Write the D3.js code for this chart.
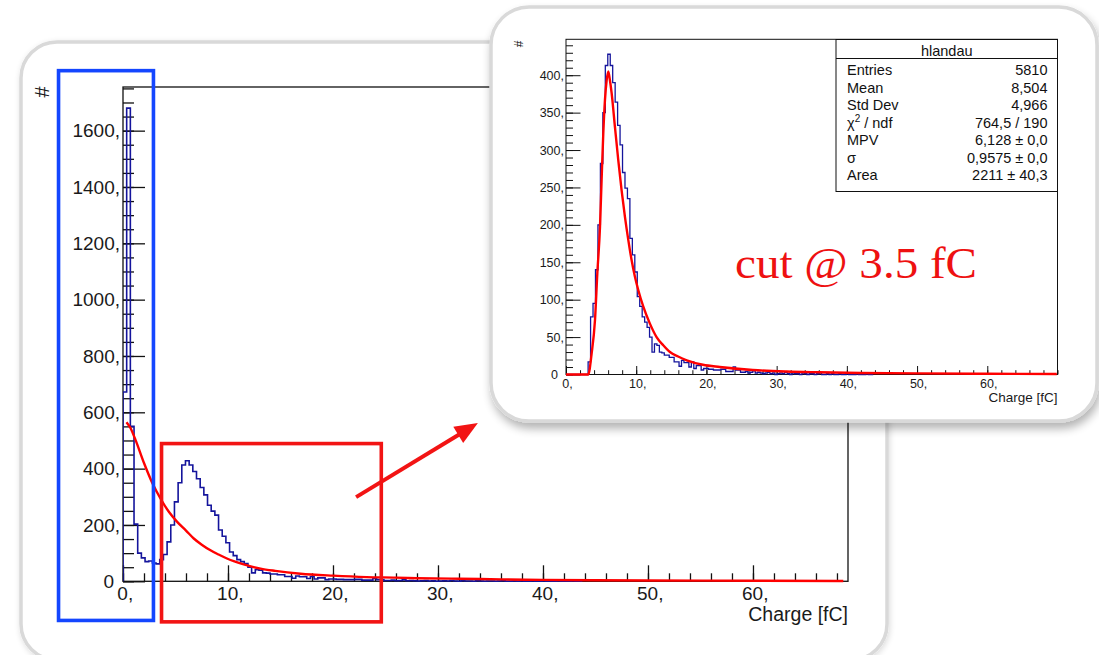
<!DOCTYPE html>
<html><head><meta charset="utf-8">
<script src="https://cdn.jsdelivr.net/npm/d3@7"></script>
<style>body{margin:0;background:#fff;} svg{display:block;}</style>
</head><body>
<svg id="c" width="1099" height="655"></svg>
<script>
// ---------------- DATA ----------------
const binWidth = 0.35;                       // fC per bin
const mainBelowCut  = [672,1680,550,203,100,83,70,72,65,62];   // bins 0..9, full spectrum
const insetBelowCut = [0,0,0,0,0,0,0,0,0,17];                  // bins 0..9, after cut
const countsAboveCut = [77,95,140,200,282,350,413,428,413,390,364,333,307,270,249,235,182,160,137,104,
  91,77,70,63,50,30,41,39,30,29,26,26,23,23,17,17,11,19,16,16,10,17,8,12,12,6,8,8,7,7,
  6,6,6,7,7,4,4,4,10,6,6,3,3,4,2,3,5,2,3,2,1,
  2,3,1,2,0,1,2,1,3,1,0,2,1,1,0,2,1,0,1,1,0,1,2,0,0,1,0,1,0,0,1,0,0,1,0,0,0,1,0,0,0,1,0,0];
// main-panel fit (red)
const mainFitX = [0.33,0.7,1.19,2.0,2.78,3.57,4.4,5.16,6.0,6.74,7.5,8.33,9.1,9.9,11.5,13.1,14.5,16.9,20,23.2,26,28,32,36,40,50,60,68.6];
const mainFitY = [565,545,502,420,350,294,245,211,180,152,130,110,95,81,60,45,37,27,20,15,13,11,9,7,5,3,2,1];
// inset Landau fit (red)
const insetFitX = [0,3.17,3.65,4.13,4.46,4.84,5.07,5.31,5.55,5.79,6.02,6.26,6.5,6.97,7.44,7.92,8.39,8.87,9.34,9.81,10.29,11.0,11.95,12.9,13.85,14.8,15.97,17.2,19.5,21.9,26.6,31.4,36.1,42,50,60,69.9];
const insetFitY = [0,0,28,73,135,197,260,322,367,393,405,393,376,331,287,246,211,180,153,131,113,91,68,50,39,30,24,19,13,10,6,4,3,2,1.5,1,0.6];
// axis ticks
const mainYMajor = [0,200,400,600,800,1000,1200,1400,1600];
const mainXMajor = [0,10,20,30,40,50,60];
const insetYMajor = [0,50,100,150,200,250,300,350,400];
const insetXMajor = [0,10,20,30,40,50,60];
// stats box
const statsTitle = "hlandau";
const statsNames = ["Entries","Mean","Std Dev","χ2 / ndf","MPV","σ","Area"];
const statsValues = ["5810","8,504","4,966","764,5 / 190","6,128 ± 0,0","0,9575 ± 0,0","2211 ± 40,3"];
// annotations (main data coordinates: fC, counts)
const blueBox = {x0:-6.14, x1:2.9, y0:1813, y1:-139};
const redBox  = {x0:3.67, x1:24.6, y0:489, y1:-144};
const arrowFrom = [22.2, 299], arrowTo = [33.8, 562];
const cutLabel = "cut @ 3.5 fC";

// ---------------- DRAW ----------------
const FONT = "'Liberation Sans', Arial, Helvetica, sans-serif";
const svg = d3.select("#c");
const defs = svg.append("defs");
const f1 = defs.append("filter").attr("id","sh").attr("x","-10%").attr("y","-10%").attr("width","125%").attr("height","130%");
f1.append("feGaussianBlur").attr("in","SourceAlpha").attr("stdDeviation",5);
f1.append("feOffset").attr("dx",2).attr("dy",6).attr("result","o");
f1.append("feComponentTransfer").append("feFuncA").attr("type","linear").attr("slope",0.3);
const m1 = f1.append("feMerge"); m1.append("feMergeNode"); m1.append("feMergeNode").attr("in","SourceGraphic");
const f2 = defs.append("filter").attr("id","sh2").attr("x","-10%").attr("y","-10%").attr("width","125%").attr("height","130%");
f2.append("feGaussianBlur").attr("in","SourceAlpha").attr("stdDeviation",3);
f2.append("feOffset").attr("dx",1).attr("dy",2);
f2.append("feComponentTransfer").append("feFuncA").attr("type","linear").attr("slope",0.15);
const m2 = f2.append("feMerge"); m2.append("feMergeNode"); m2.append("feMergeNode").attr("in","SourceGraphic");

// main panel
svg.append("rect").attr("x",21).attr("y",42).attr("width",866).attr("height",618).attr("rx",36)
  .attr("fill","#fff").attr("stroke","#d9d9d9").attr("stroke-width",3.5).attr("filter","url(#sh2)");

function histPoints(counts){
  const pts=[[0,0]];
  counts.forEach((c,i)=>pts.push([i*binWidth,c]));
  pts.push([counts.length*binWidth,counts[counts.length-1]]);
  pts.push([counts.length*binWidth,0]);
  return pts;
}

function drawPlot(g, o){
  const x=o.x, y=o.y;
  const [xa,xb]=x.range(), [ya,yb]=y.range();
  const clipId=o.id+"clip";
  defs.append("clipPath").attr("id",clipId).append("rect")
    .attr("x",xa).attr("y",yb).attr("width",xb-xa).attr("height",ya-yb+2);
  // frame
  g.append("rect").attr("x",xa).attr("y",yb).attr("width",xb-xa).attr("height",ya-yb)
    .attr("fill","none").attr("stroke","#111").attr("stroke-width",o.frameW);
  // ticks (inside)
  const tk = (axis, tx, ty) => {
    const a = g.append("g").attr("transform",`translate(${tx},${ty})`).call(axis);
    a.select(".domain").remove(); a.selectAll("text").remove();
    a.selectAll("line").attr("stroke","#111").attr("stroke-width",o.tickW);
  };
  tk(d3.axisRight(y).tickValues(o.yMajor).tickSize(o.yMajLen).tickFormat(""), xa, 0);
  tk(d3.axisRight(y).tickValues(d3.range(0, y.domain()[1]+0.01, o.yMinorStep)).tickSize(o.yMinLen).tickFormat(""), xa, 0);
  tk(d3.axisTop(x).tickValues(o.xMajor).tickSize(o.xMajLen).tickFormat(""), 0, ya);
  tk(d3.axisTop(x).tickValues(d3.range(0, x.domain()[1]+0.01, 2)).tickSize(o.xMinLen).tickFormat(""), 0, ya);
  // labels
  g.selectAll(".yl").data(o.yMajor).join("text")
    .attr("x",d=>d===0? xa-o.yLabGap-6 : xa-o.yLabGap).attr("y",d=>y(d)).attr("dy","0.36em")
    .attr("text-anchor","end").attr("font-family",FONT).attr("font-size",o.fs).attr("fill","#1a1a1a")
    .text(d=>d===0?"0":d+",");
  g.selectAll(".xl").data(o.xMajor).join("text")
    .attr("x",d=>x(d)+o.fs*0.12).attr("y",o.xLabBase)
    .attr("text-anchor","middle").attr("font-family",FONT).attr("font-size",o.fs).attr("fill","#1a1a1a")
    .text(d=>d+",");
  g.append("text").attr("x",xb).attr("y",o.titleBase).attr("text-anchor","end")
    .attr("font-family",FONT).attr("font-size",o.tfs).attr("fill","#1a1a1a").text("Charge [fC]");
  g.append("text").attr("transform",`translate(${o.hashX},${o.hashY}) rotate(-90)`)
    .attr("text-anchor","middle").attr("dy","0.35em").attr("font-family",FONT).attr("font-size",o.hfs)
    .attr("fill","#1a1a1a").text("#");
  // histogram
  g.append("path").attr("clip-path",`url(#${clipId})`)
    .attr("d", d3.line().x(d=>x(d[0])).y(d=>y(d[1])).curve(d3.curveStepAfter)(histPoints(o.counts)))
    .attr("fill","none").attr("stroke","#14149c").attr("stroke-width",o.histW);
  // fit
  g.append("path").attr("clip-path",`url(#${clipId})`)
    .attr("d", d3.line().x((d,i)=>x(o.fitX[i])).y((d,i)=>y(o.fitY[i])).curve(d3.curveMonotoneX)(o.fitX))
    .attr("fill","none").attr("stroke","#ff0000").attr("stroke-width",o.fitW).attr("stroke-linejoin","round");
}

// main chart
const xM = d3.scaleLinear([0,69.05],[123,848]);
const yM = d3.scaleLinear([0,1755],[581.3,87]);
const gM = svg.append("g");
drawPlot(gM,{id:"m",x:xM,y:yM,counts:mainBelowCut.concat(countsAboveCut),fitX:mainFitX,fitY:mainFitY,
  yMajor:mainYMajor,xMajor:mainXMajor,yMinorStep:50,yMajLen:22,yMinLen:11,xMajLen:16,xMinLen:8,
  yLabGap:3,fs:19,xLabBase:600,titleBase:621,tfs:19.5,hashX:42,hashY:92,hfs:20,
  frameW:1.3,tickW:1.3,histW:1.6,fitW:2.4});

// annotations
svg.append("rect").attr("x",xM(blueBox.x0)).attr("y",yM(blueBox.y0))
  .attr("width",xM(blueBox.x1)-xM(blueBox.x0)).attr("height",yM(blueBox.y1)-yM(blueBox.y0))
  .attr("fill","none").attr("stroke","#1446ff").attr("stroke-width",3.6);
svg.append("rect").attr("x",xM(redBox.x0)).attr("y",yM(redBox.y0))
  .attr("width",xM(redBox.x1)-xM(redBox.x0)).attr("height",yM(redBox.y1)-yM(redBox.y0))
  .attr("fill","none").attr("stroke","#f21414").attr("stroke-width",3.6);
{
  const p0=[xM(arrowFrom[0]),yM(arrowFrom[1])], p1=[xM(arrowTo[0]),yM(arrowTo[1])];
  const dx=p1[0]-p0[0], dy=p1[1]-p0[1], L=Math.hypot(dx,dy), ux=dx/L, uy=dy/L;
  const hl=23, hw=9.5;
  const bc=[p1[0]-ux*hl, p1[1]-uy*hl];
  svg.append("line").attr("x1",p0[0]).attr("y1",p0[1]).attr("x2",bc[0]+ux*2).attr("y2",bc[1]+uy*2)
    .attr("stroke","#f21414").attr("stroke-width",4);
  svg.append("path").attr("d",`M${p1[0]},${p1[1]}L${bc[0]-uy*hw},${bc[1]+ux*hw}L${bc[0]+uy*hw},${bc[1]-ux*hw}Z`)
    .attr("fill","#f21414");
}

// inset panel
svg.append("rect").attr("x",491).attr("y",7).attr("width",606).attr("height",414).attr("rx",38)
  .attr("fill","#fff").attr("stroke","#d9d9d9").attr("stroke-width",3.5).attr("filter","url(#sh)");

const xI = d3.scaleLinear([0,70],[566,1057.5]);
const yI = d3.scaleLinear([0,448],[374.5,39.3]);
const gI = svg.append("g");
drawPlot(gI,{id:"i",x:xI,y:yI,counts:insetBelowCut.concat(countsAboveCut),fitX:insetFitX,fitY:insetFitY,
  yMajor:insetYMajor,xMajor:insetXMajor,yMinorStep:10,yMajLen:14.5,yMinLen:7,xMajLen:8.5,xMinLen:4.3,
  yLabGap:2,fs:12.5,xLabBase:388,titleBase:402,tfs:13.5,hashX:519,hashY:44,hfs:12,
  frameW:1,tickW:1,histW:1.3,fitW:2.4});

// stats box
{
  const bx=836, by=39.5, bw=1057.5-836, bh=191.5-39.5;
  const s=svg.append("g");
  s.append("rect").attr("x",bx).attr("y",by).attr("width",bw).attr("height",bh)
    .attr("fill","#fff").attr("stroke","#111").attr("stroke-width",1);
  s.append("line").attr("x1",bx).attr("x2",bx+bw).attr("y1",58.5).attr("y2",58.5).attr("stroke","#111").attr("stroke-width",1);
  s.append("text").attr("x",bx+bw/2).attr("y",55.5).attr("text-anchor","middle")
    .attr("font-family",FONT).attr("font-size",14.5).attr("fill","#111").text(statsTitle);
  statsNames.forEach((n,i)=>{
    const yy=75.3+17.45*i;
    const t=s.append("text").attr("x",847).attr("y",yy).attr("font-family",FONT).attr("font-size",14.5).attr("fill","#111");
    if(n.startsWith("χ2")){
      t.append("tspan").text("χ");
      t.append("tspan").attr("dy",-6).attr("font-size",10).text("2");
      t.append("tspan").attr("dy",6).text(n.slice(2));
    } else t.text(n);
    s.append("text").attr("x",1047.5).attr("y",yy).attr("text-anchor","end")
      .attr("font-family",FONT).attr("font-size",14.5).attr("fill","#111").text(statsValues[i]);
  });
}

// cut label
svg.append("text").attr("x",735).attr("y",277.5)
  .attr("font-family","'Liberation Serif','Times New Roman',serif").attr("font-size",44)
  .attr("textLength",242).attr("lengthAdjust","spacingAndGlyphs")
  .attr("fill","#ee1111").text(cutLabel);
</script>
</body></html>
